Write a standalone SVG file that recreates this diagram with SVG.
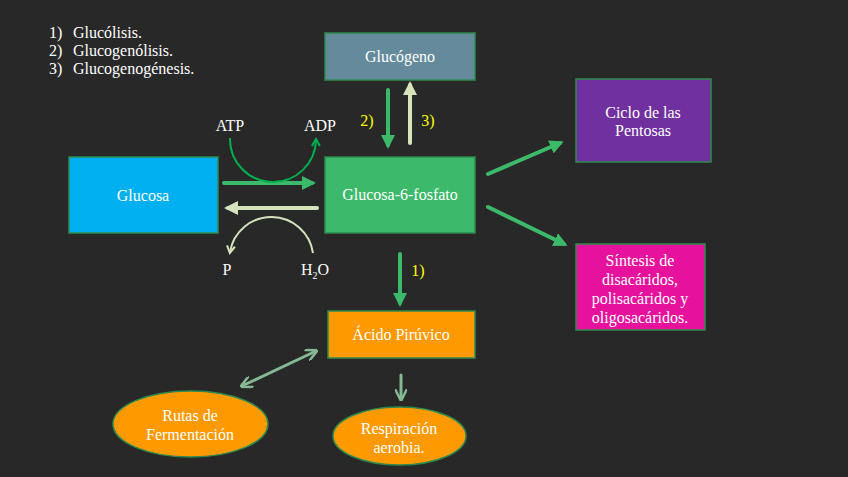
<svg xmlns="http://www.w3.org/2000/svg" width="848" height="477" viewBox="0 0 848 477" font-family="Liberation Serif, Times New Roman, serif">
<style>
text{font-family:'Liberation Serif','Times New Roman','DejaVu Serif',serif;fill:#ffffff;font-size:16px;}
.c{text-anchor:middle;}
.y{fill:#ffff00;}
.box{stroke:#2e8b4f;stroke-width:1.5;}
.g{fill:none;stroke:#3cb96b;stroke-width:4;stroke-linecap:round;}
.p{fill:none;stroke:#d6e3bc;stroke-width:4;stroke-linecap:round;}
.m{fill:none;stroke:#85b894;stroke-width:3;stroke-linecap:round;}
</style>
<defs>
<marker id="hg" markerUnits="userSpaceOnUse" markerWidth="14" markerHeight="14" refX="10" refY="7" orient="auto"><path d="M0,0 L14,7 L0,14 z" fill="#3cb96b"/></marker>
<marker id="hp" markerUnits="userSpaceOnUse" markerWidth="14" markerHeight="14" refX="10" refY="7" orient="auto"><path d="M0,0 L14,7 L0,14 z" fill="#d6e3bc"/></marker>
<marker id="hm" markerUnits="userSpaceOnUse" markerWidth="12" markerHeight="12" refX="8" refY="6" orient="auto-start-reverse"><path d="M0,0 L12,6 L0,12" fill="none" stroke="#85b894" stroke-width="2.5"/></marker>
<marker id="hd" markerUnits="userSpaceOnUse" markerWidth="10" markerHeight="10" refX="7" refY="5" orient="auto"><path d="M1,1 L8,5 L1,9" fill="none" stroke="#00b050" stroke-width="2"/></marker>
<marker id="hl" markerUnits="userSpaceOnUse" markerWidth="10" markerHeight="10" refX="7" refY="5" orient="auto"><path d="M1,1 L8,5 L1,9" fill="none" stroke="#d6e3bc" stroke-width="2"/></marker>
</defs>
<rect width="848" height="477" fill="#282828"/>

<g id="legend">
<text x="49" y="38">1)</text><text x="73" y="38">Glucólisis.</text>
<text x="49" y="56">2)</text><text x="73" y="56">Glucogenólisis.</text>
<text x="49" y="74">3)</text><text x="73" y="74">Glucogenogénesis.</text>
</g>

<g id="connectors">
<line class="g" x1="224" y1="183" x2="312" y2="183" marker-end="url(#hg)"/>
<line class="p" x1="317" y1="208" x2="228" y2="208" marker-end="url(#hp)"/>
<path d="M230,138 A43,43 0 0,0 316,140" fill="none" stroke="#00b050" stroke-width="2" marker-end="url(#hd)"/>
<path d="M313,253 A42,42 0 0,0 230,252" fill="none" stroke="#d6e3bc" stroke-width="2" marker-end="url(#hl)"/>
<line class="g" x1="388" y1="90" x2="388" y2="145" marker-end="url(#hg)"/>
<line class="p" x1="410" y1="143" x2="410" y2="85" marker-end="url(#hp)"/>
<line class="g" x1="400" y1="254" x2="400" y2="303" marker-end="url(#hg)"/>
<line class="g" x1="488" y1="174" x2="560" y2="143" marker-end="url(#hg)"/>
<line class="g" x1="488" y1="207" x2="564" y2="244" marker-end="url(#hg)"/>
<line class="m" x1="244" y1="385" x2="314" y2="352" marker-start="url(#hm)" marker-end="url(#hm)"/>
<line class="m" x1="401" y1="375" x2="401" y2="397" marker-end="url(#hm)"/>
</g>

<g id="labels">
<text class="c" x="230" y="131">ATP</text>
<text class="c" x="320" y="131">ADP</text>
<text class="c" x="227" y="275">P</text>
<text class="c" x="315" y="275">H<tspan font-size="10" dy="4">2</tspan><tspan dy="-4">O</tspan></text>
<text class="c y" x="367" y="126">2)</text>
<text class="c y" x="428" y="126">3)</text>
<text class="c y" x="418" y="276">1)</text>
</g>

<g id="glucogeno">
<rect class="box" x="325" y="33" width="150" height="47" fill="#648a9c"/>
<text class="c" x="400" y="62">Glucógeno</text>
</g>
<g id="glucosa">
<rect class="box" x="69" y="157" width="149" height="76" fill="#00b0f0"/>
<text class="c" x="143" y="201">Glucosa</text>
</g>
<g id="g6p">
<rect class="box" x="325" y="157" width="150" height="76" fill="#3cb96b"/>
<text class="c" x="400" y="200">Glucosa-6-fosfato</text>
</g>
<g id="pentosas">
<rect class="box" x="576" y="79" width="135" height="83" fill="#7030a0"/>
<text class="c" x="643" y="118">Ciclo de las</text>
<text class="c" x="643" y="136">Pentosas</text>
</g>
<g id="sintesis">
<rect class="box" x="576" y="244" width="129" height="86" fill="#e6119c"/>
<text class="c" x="640" y="266">Síntesis de</text>
<text class="c" x="640" y="285">disacáridos,</text>
<text class="c" x="640" y="304">polisacáridos y</text>
<text class="c" x="640" y="323">oligosacáridos.</text>
</g>
<g id="piruvico">
<rect class="box" x="328" y="311" width="147" height="47" fill="#ff9900"/>
<text class="c" x="401" y="340">Ácido Pirúvico</text>
</g>
<g id="fermentacion">
<ellipse class="box" cx="190.5" cy="424" rx="77.5" ry="33" fill="#ff9900"/>
<text class="c" x="190" y="421">Rutas de</text>
<text class="c" x="190" y="440">Fermentación</text>
</g>
<g id="respiracion">
<ellipse class="box" cx="399.5" cy="436" rx="66.5" ry="29" fill="#ff9900"/>
<text class="c" x="399" y="434">Respiración</text>
<text class="c" x="399" y="453">aerobia.</text>
</g>
</svg>
